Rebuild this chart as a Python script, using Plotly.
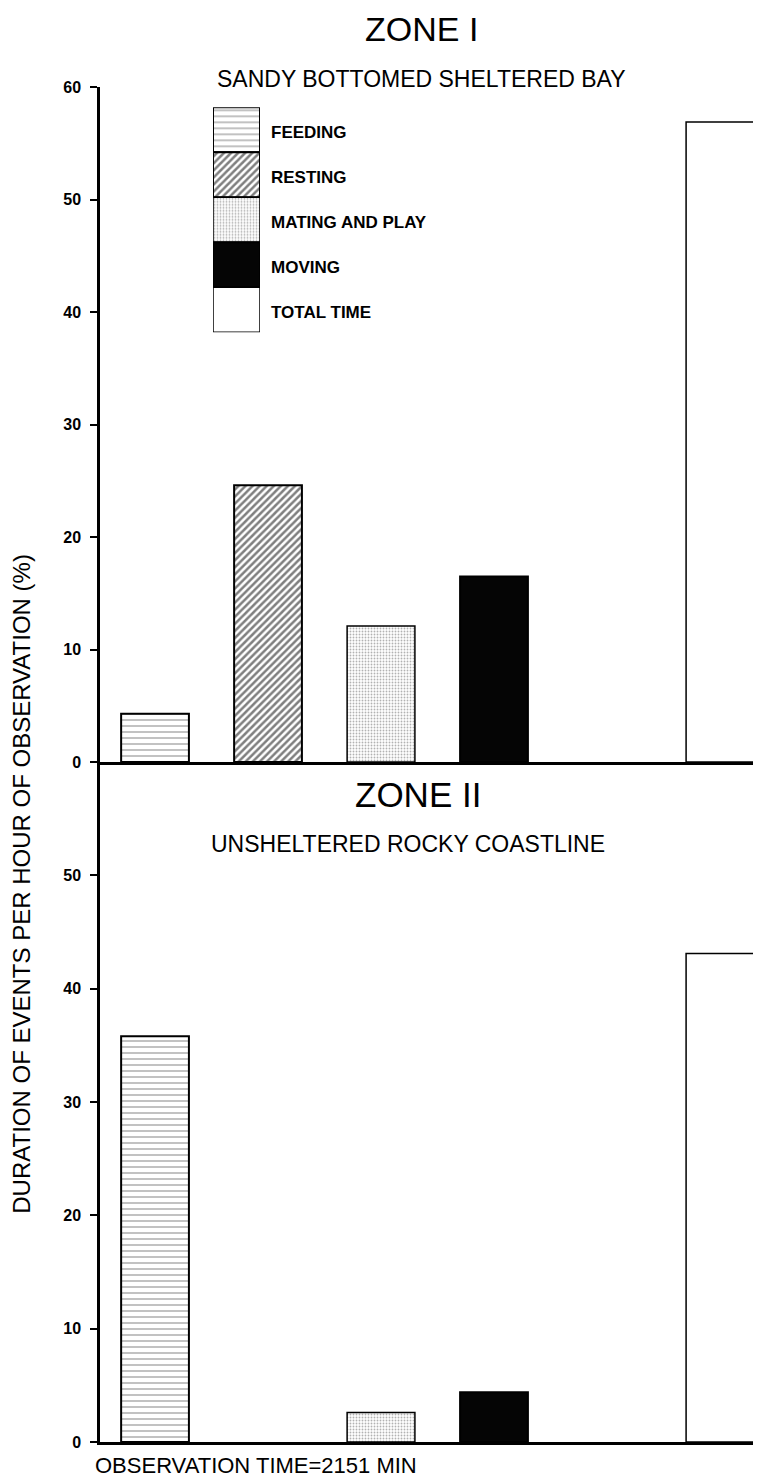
import plotly.graph_objects as go

# ---------------- data ----------------
categories = ["FEEDING", "RESTING", "MATING AND PLAY", "MOVING", "TOTAL TIME"]
slot_order = ["FEEDING", "RESTING", "MATING AND PLAY", "MOVING", " ", "TOTAL TIME"]
zone1_values = [4.3, 24.6, 12.1, 16.5, 56.9]
zone2_values = [35.8, 0.0, 2.6, 4.4, 43.1]
zone1_ticks = [0, 10, 20, 30, 40, 50, 60]
zone2_ticks = [0, 10, 20, 30, 40, 50]
legend_unit = [1, 1, 1, 1, 1]

# ---------------- styles ----------------
FONT = "Liberation Sans, Arial, sans-serif"
styles = {
    "FEEDING": dict(color="white", line=dict(color="black", width=2),
                    pattern=dict(shape="-", fgcolor="#444444", bgcolor="white", size=6, solidity=0.22)),
    "RESTING": dict(color="white", line=dict(color="black", width=2),
                    pattern=dict(shape="/", fgcolor="#000000", bgcolor="white", size=5, solidity=0.5)),
    "MATING AND PLAY": dict(color="white", line=dict(color="black", width=1.5),
                            pattern=dict(shape=".", fgcolor="#666666", bgcolor="white", size=3, solidity=0.3)),
    "MOVING": dict(color="#050505", line=dict(color="black", width=2)),
    "TOTAL TIME": dict(color="white", line=dict(color="black", width=1.5)),
}

fig = go.Figure()

# main bars
for vals, xa, ya in [(zone1_values, "x", "y"), (zone2_values, "x2", "y2")]:
    for cat, v in zip(categories, vals):
        if v <= 0:
            continue
        fig.add_trace(go.Bar(x=[cat], y=[v], width=0.6, marker=styles[cat],
                             xaxis=xa, yaxis=ya, showlegend=False, hoverinfo="skip"))

# legend swatches (stacked column on its own small axis)
n = len(categories)
for i, cat in enumerate(categories):
    fig.add_trace(go.Bar(x=[0], y=[legend_unit[i]], base=[sum(legend_unit[i + 1:])], width=1,
                         marker=styles[cat], xaxis="x3", yaxis="y3",
                         showlegend=False, hoverinfo="skip"))

axis_common = dict(showgrid=False, zeroline=False)
xcommon = dict(type="category", categoryorder="array", categoryarray=slot_order,
               range=[-0.487, 5.363], showticklabels=False, ticks="",
               showline=True, linecolor="black", linewidth=2.5, **axis_common)
ycommon = dict(range=[0, 60], showline=True, linecolor="black", linewidth=2.5,
               ticks="outside", ticklen=7, tickwidth=2, tickcolor="black",
               tickfont=dict(family=FONT, size=16, color="black", weight="bold"),
               ticklabelstandoff=6, **axis_common)

split = 680 / 1355
# page body has an 8px margin: figure is sized/offset to compensate
fig.update_layout(
    width=753, height=1470,
    margin=dict(l=92, r=0, t=79, b=36),
    paper_bgcolor="white", plot_bgcolor="white",
    barmode="overlay",
    xaxis=dict(domain=[0, 1], anchor="y", **xcommon),
    yaxis=dict(domain=[split, 1], anchor="x", tickvals=zone1_ticks, **ycommon),
    xaxis2=dict(domain=[0, 1], anchor="y2", **xcommon),
    yaxis2=dict(domain=[0, split], anchor="x2", tickvals=zone2_ticks, **ycommon),
    xaxis3=dict(domain=[113 / 661, 160 / 661], anchor="y3", range=[-0.5, 0.5], visible=False),
    yaxis3=dict(domain=[0.819, 0.985], anchor="x3", range=[0, n], visible=False),
)

ann = []
for i, cat in enumerate(categories):
    ann.append(dict(x=0.5, y=sum(legend_unit[i + 1:]) + legend_unit[i] / 2, xref="x3", yref="y3",
                    text=cat, showarrow=False, xanchor="left", yanchor="middle", xshift=9, yshift=-3,
                    font=dict(family=FONT, size=17, color="black", weight="bold")))

def txt(x, y, t, size, xanchor="center", angle=0):
    ann.append(dict(x=x, y=y, xref="paper", yref="paper", text=t, showarrow=False,
                    xanchor=xanchor, yanchor="middle", textangle=angle,
                    font=dict(family=FONT, size=size, color="black")))

txt(0.486, 1.0428, "ZONE I", 34)
txt(0.486, 1.0059, "SANDY BOTTOMED SHELTERED BAY", 23)
txt(0.481, 0.478, "ZONE II", 35)
txt(0.466, 0.441, "UNSHELTERED ROCKY COASTLINE", 23)
txt(-0.118, 0.412, "DURATION OF EVENTS PER HOUR OF OBSERVATION (%)", 24, angle=-90)
txt(-0.0106, -0.0170, "OBSERVATION TIME=2151 MIN", 22, xanchor="left")
fig.update_layout(annotations=ann)

fig.write_html("out.html")
